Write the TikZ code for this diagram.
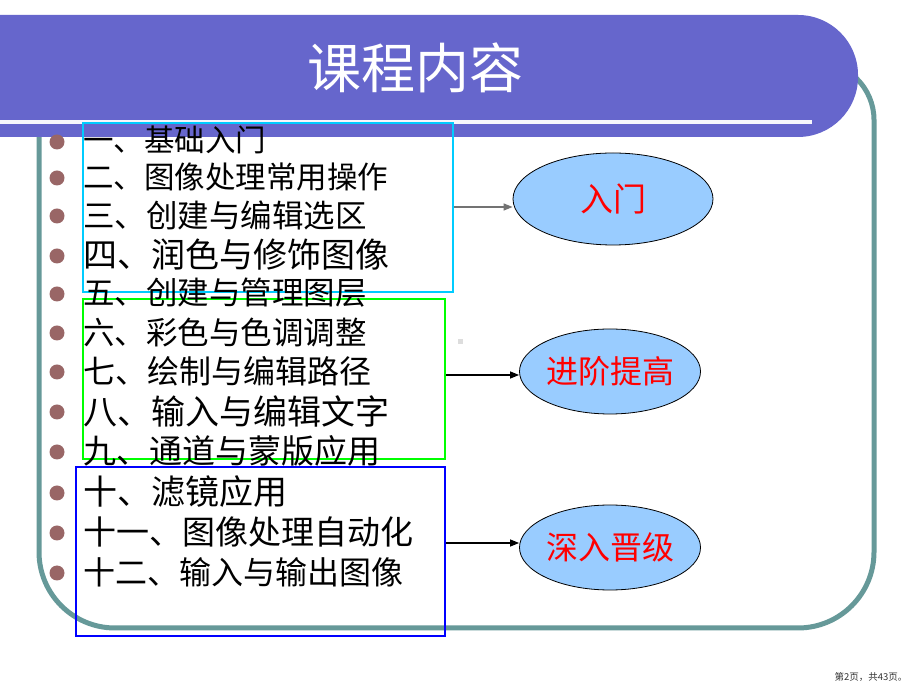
\documentclass[tikz,border=0pt]{standalone}
\usepackage{fontspec}
\setmainfont{Noto Sans CJK SC}
\usetikzlibrary{shapes.geometric,arrows.meta}
\definecolor{bannerc}{HTML}{6666CC}
\definecolor{framec}{HTML}{669999}
\definecolor{bulc}{HTML}{996666}
\definecolor{ellc}{HTML}{99CCFF}
\definecolor{cyanc}{HTML}{00CCFF}
\definecolor{greenc}{HTML}{00FF00}
\definecolor{bluec}{HTML}{0000FF}
\definecolor{sqc}{HTML}{DDDDDD}
\newcommand\lfs[1]{\fontsize{#1}{#1}\selectfont}
\tikzset{
  bul/.style={circle, fill=bulc, minimum size=15pt, inner sep=0pt},
  item/.style={anchor=west, inner sep=0pt, text=black},
  grp/.style={draw, line width=2pt, inner sep=0pt},
  lvl/.style={ellipse, draw=black, line width=0.8pt, fill=ellc, text=red, inner sep=0pt},
  arr/.style={line width=1.2pt, -{Triangle[length=9pt,width=7pt]}},
}
\begin{document}
\begin{tikzpicture}[x=1pt,y=1pt]
\useasboundingbox (0,0) rectangle (920,690);
\fill[white] (0,0) rectangle (920,690);
% teal frame
\draw[framec, line width=5pt]
  (39,138) -- (39,570) arc[start angle=180, end angle=90, radius=58]
  -- (816,628) arc[start angle=90, end angle=0, radius=58]
  -- (874,138) arc[start angle=0, end angle=-90, radius=76]
  -- (115,62) arc[start angle=270, end angle=180, radius=76] -- cycle;
% banner
\fill[bannerc] (0,553) -- (798,553) arc[start angle=-90, end angle=0, radius=60]
  -- (858,615) arc[start angle=0, end angle=90, radius=60] -- (0,675) -- cycle;
\fill[white!95!bannerc] (0,566) rectangle (812,570);
\node[text=white, inner sep=0pt] (title) at (415,622) {\lfs{54}课程内容};
% group rectangles
\node[grp, draw=cyanc, minimum width=370pt, minimum height=169pt] (r1) at (268,482.5) {};
\node[grp, draw=greenc, minimum width=362pt, minimum height=160pt] (r2) at (264,311) {};
\node[grp, draw=bluec, minimum width=369pt, minimum height=169pt] (r3) at (260.5,138.5) {};
% bullets and items
\node[bul] (b1) at (57,548) {};
\node[bul] (b2) at (57,512) {};
\node[bul] (b3) at (57,474) {};
\node[bul] (b4) at (57,434) {};
\node[bul] (b5) at (57,396) {};
\node[bul] (b6) at (57,357) {};
\node[bul] (b7) at (57,318) {};
\node[bul] (b8) at (57,278) {};
\node[bul] (b9) at (57,238) {};
\node[bul] (b10) at (57,197) {};
\node[bul] (b11) at (57,157) {};
\node[bul] (b12) at (57,117) {};
\node[item] (t1) at (83,550) {\lfs{30.5}一、基础入门};
\node[item] (t2) at (83,513) {\lfs{30.5}二、图像处理常用操作};
\node[item] (t3) at (83,475) {\lfs{31.5}三、创建与编辑选区};
\node[item] (t4) at (83,435) {\lfs{34}四、润色与修饰图像};
\node[item] (t5) at (83,397) {\lfs{31.5}五、创建与管理图层};
\node[item] (t6) at (83,358) {\lfs{31.5}六、彩色与色调调整};
\node[item] (t7) at (83,319) {\lfs{32}七、绘制与编辑路径};
\node[item] (t8) at (83,279) {\lfs{34}八、输入与编辑文字};
\node[item] (t9) at (83,239) {\lfs{33}九、通道与蒙版应用};
\node[item] (t10) at (83,198) {\lfs{34}十、滤镜应用};
\node[item] (t11) at (83,158) {\lfs{33}十一、图像处理自动化};
\node[item] (t12) at (83,118) {\lfs{32}十二、输入与输出图像};
% level ellipses
\node[lvl, minimum width=200pt, minimum height=92pt] (e1) at (613,491) {\lfs{33}入门};
\node[lvl, minimum width=176pt, minimum height=85pt] (e2) at (610,318.5) {\lfs{32}进阶提高};
\node[lvl, minimum width=176pt, minimum height=85pt] (e3) at (610,142.5) {\lfs{32}深入晋级};
% arrows
\coordinate (s1) at (r1.east |- 0,483);
\coordinate (s2) at (r2.east |- 0,315);
\coordinate (s3) at (r3.east |- 0,147);
\draw[arr, draw=black!55] (s1) -- (s1 -| e1.west);
\draw[arr] (s2) -- (s2 -| e2.west);
\draw[arr] (s3) -- (s3 -| e3.west);
% small square
\fill[sqc] (457.5,345.5) rectangle (462.5,350.5);
% footer
\node[text=black!80, inner sep=0pt] (foot) at (871,13) {\lfs{9.5}第2页，共43页。};
\end{tikzpicture}
\end{document}
